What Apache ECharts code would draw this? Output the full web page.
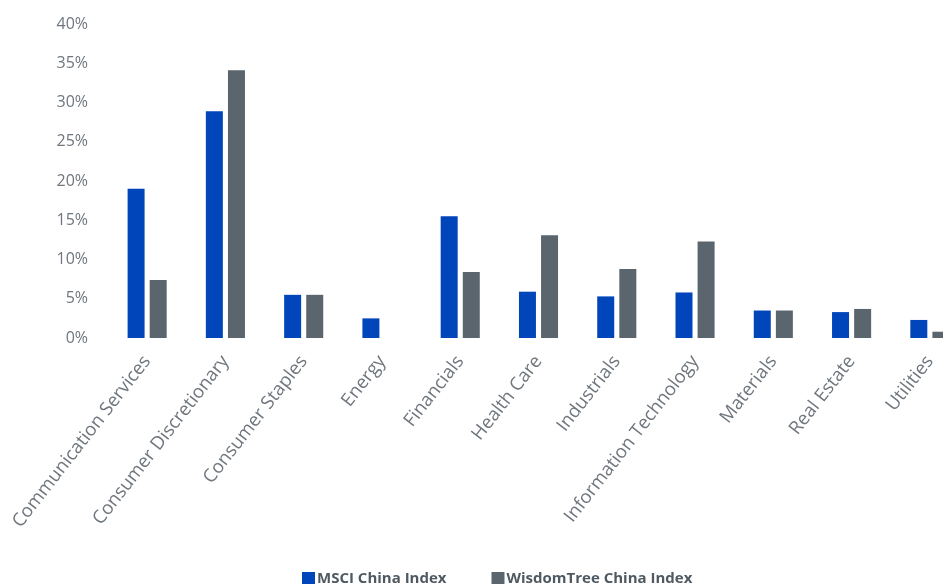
<!DOCTYPE html>
<html>
<head>
<meta charset="utf-8">
<script src="https://cdn.jsdelivr.net/npm/echarts@6/dist/echarts.min.js"></script>
<style>
html,body{margin:0;padding:0;background:#fff;overflow:hidden;}
#main{width:943px;height:584px;}
</style>
</head>
<body>
<div id="main"></div>
<script>
const categories = ["Communication Services","Consumer Discretionary","Consumer Staples","Energy","Financials","Health Care","Industrials","Information Technology","Materials","Real Estate","Utilities"];
const msciChina = [19.0, 28.9, 5.5, 2.5, 15.5, 5.9, 5.3, 5.8, 3.5, 3.3, 2.3];
const wisdomTreeChina = [7.4, 34.1, 5.5, 0, 8.4, 13.1, 8.8, 12.3, 3.5, 3.7, 0.8];
const yTicks = [0, 5, 10, 15, 20, 25, 30, 35, 40];

const chart = echarts.init(document.getElementById('main'), null, {renderer:'canvas'});
const labelColor = '#6f767d';
chart.setOption({
  animation:false,
  textStyle:{fontFamily:'Open Sans'},
  grid:{left:108, top:24, width:861, height:314, containLabel:false, outerBoundsMode:'none'},
  legend:{
    left:297, top:566, itemWidth:13, itemHeight:13, itemGap:45,
    icon:'rect',
    textStyle:{fontSize:15, fontWeight:'bold', color:'#4f5962', fontFamily:'Open Sans', padding:[0,0,0,-3]},
    data:['MSCI China Index','WisdomTree China Index']
  },
  xAxis:{
    type:'category', data:categories,
    axisLine:{show:false}, axisTick:{show:false},
    axisLabel:{rotate:52, interval:0, margin:20, fontSize:18.5, color:labelColor, fontFamily:'Open Sans'}
  },
  yAxis:{
    type:'value', min:yTicks[0], max:yTicks[yTicks.length-1], interval:5,
    axisLine:{show:false}, axisTick:{show:false}, splitLine:{show:false},
    axisLabel:{formatter:'{value}%', margin:20, fontSize:16, color:labelColor, fontFamily:'Open Sans'}
  },
  series:[
    {name:'MSCI China Index', type:'bar', data:msciChina, barWidth:17, barGap:'30%', itemStyle:{color:'#0046ba'}},
    {name:'WisdomTree China Index', type:'bar', data:wisdomTreeChina, barWidth:17, barGap:'30%', itemStyle:{color:'#5a656e'}}
  ]
});
</script>
</body>
</html>
